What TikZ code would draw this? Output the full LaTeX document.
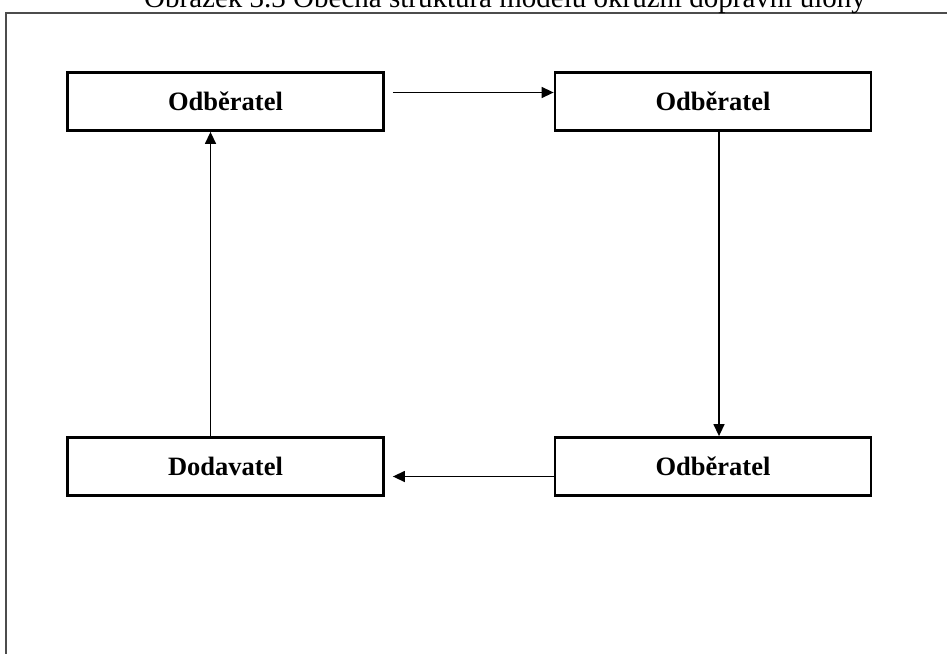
\documentclass[tikz,border=0pt]{standalone}
\usepackage{fontspec}
\setmainfont{Liberation Serif}
\usetikzlibrary{arrows.meta}

\begin{document}
\begin{tikzpicture}[
            x=1pt, y=-1pt,
            box/.style={draw, line width=2.8pt, minimum width=316pt, minimum height=58pt,
                inner sep=0pt, font=\bfseries\fontsize{26.5}{26.5}\selectfont},
            flow/.style={line width=1.4pt, -{Triangle[length=12pt,width=11pt]}}
        ]
            \useasboundingbox (0,0) rectangle (947,653);
            \clip (0,0) rectangle (947,653);
            \fill[white] (0,0) rectangle (947,653);

            % frame and title, cut off at the top
            \draw[line width=2pt, black!70] (6,13) rectangle (990,700);
            \node[anchor=base, font=\fontsize{29}{29}\selectfont, inner sep=0pt] (title) at (505,8)
                {Obrázek 3.3 Obecná struktura modelu okružní dopravní úlohy};

            \node[box] (odbA) at (225.5,101.5) {Odběratel};
            \node[box] (odbB) at (713,101.5) {Odběratel};
            \node[box] (dod) at (225.5,466.5) {Dodavatel};
            \node[box] (odbC) at (713,466.5) {Odběratel};

            \draw[flow] ([xshift=8pt,yshift=9pt]odbA.east) -- ([yshift=9pt]odbB.west);
            \draw[flow] ([xshift=6pt]odbB.south) -- ([xshift=6pt]odbC.north);
            \draw[flow] ([yshift=-10pt]odbC.west) -- ([xshift=8pt,yshift=-10pt]dod.east);
            \draw[flow] ([xshift=-15pt]dod.north) -- ([xshift=-15pt]odbA.south);
        \end{tikzpicture}
\end{document}
